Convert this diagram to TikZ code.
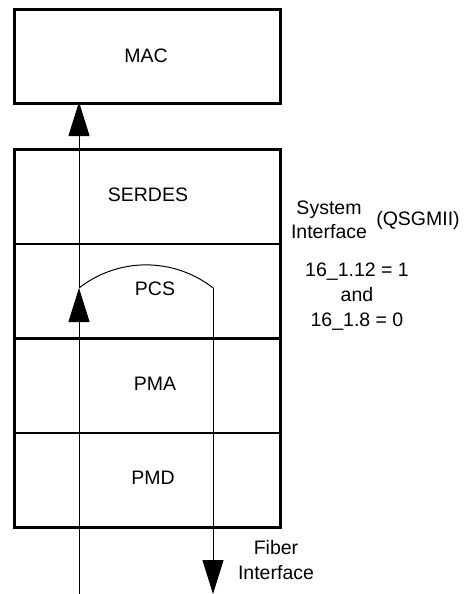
\documentclass[tikz,border=0pt]{standalone}
\usepackage{fontspec}
\setmainfont{Liberation Sans}
\usetikzlibrary{arrows.meta}
\begin{document}
\begin{tikzpicture}[x=1pt,y=-1pt,
  layerbox/.style={draw=black,line width=2.8pt,minimum width=266pt,inner sep=0pt,anchor=north west},
  lbl/.style={font=\fontsize{19.5}{25}\selectfont,inner sep=0pt,align=center},
  flow/.style={line width=1pt,-{Triangle[width=21pt,length=34pt]}}]
\useasboundingbox (0,0) rectangle (465,594);
% boxes
\node[layerbox,minimum height=94pt] (mac) at (13,8) {};
\node[layerbox,minimum height=94.5pt] (serdes) at (13,148) {};
\node[layerbox,minimum height=94.5pt] (pcs) at (13,242.5) {};
\node[layerbox,minimum height=94.5pt] (pma) at (13,337) {};
\node[layerbox,minimum height=94.5pt] (pmd) at (13,431.5) {};
% labels
\node[lbl] (tmac) at (146,56) {MAC};
\node[lbl] (tserdes) at (148,195) {SERDES};
\node[lbl] (tpcs) at (155,289) {PCS};
\node[lbl] (tpma) at (155,384) {PMA};
\node[lbl] (tpmd) at (153,478) {PMD};
\node[lbl,font=\fontsize{19.5}{24}\selectfont] (tsys) at (329,220) {System\\Interface};
\node[lbl] (tq) at (418,220) {(QSGMII)};
\node[lbl] (treg) at (357,297) {16\_1.12 = 1\\and\\16\_1.8 = 0};
\node[lbl] (tfib) at (276,560) {Fiber\\Interface};
% connectors
\coordinate (inb) at (79,594);
\coordinate (arcs) at (79,288);
\coordinate (arce) at (213,288);
\coordinate (outb) at (213,594);
\coordinate (macin) at (79,102);
\draw[flow] (inb) -- (arcs);
\draw[flow] (arcs) -- (macin);
\draw[line width=1pt] (arcs) arc[start angle=-128,end angle=-52,radius=109];
\draw[flow] (arce) -- (outb);
\end{tikzpicture}
\end{document}
